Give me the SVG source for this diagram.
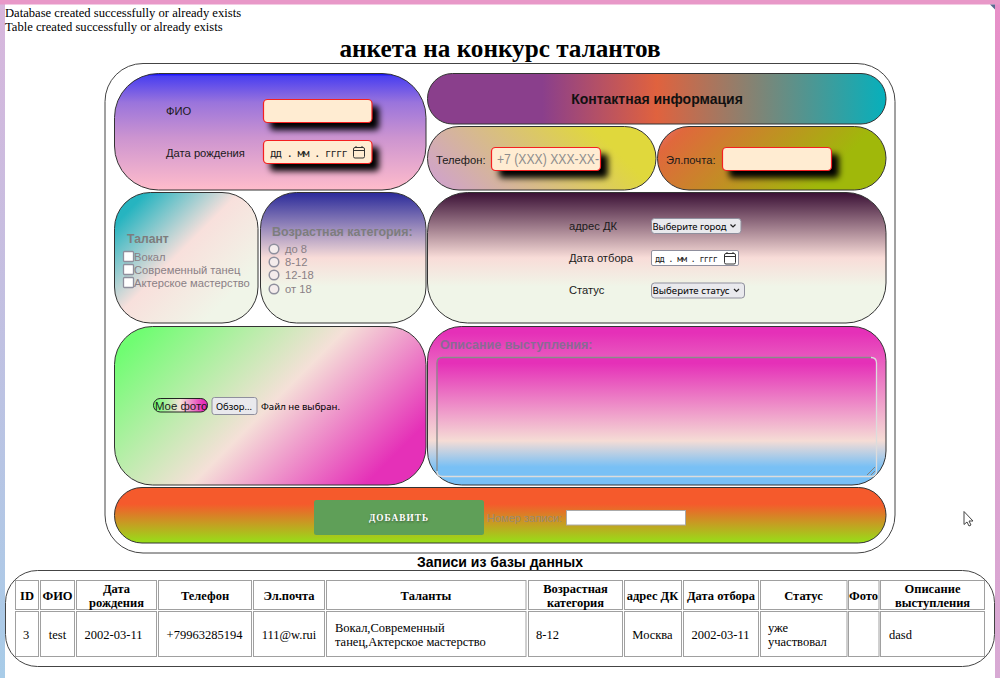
<svg xmlns="http://www.w3.org/2000/svg" width="1000" height="678" viewBox="0 0 1000 678">
<style>
text{font-family:"Liberation Sans",Arial,sans-serif;font-size:11.2px;fill:#1a1a1a}
.serif{font-family:"Liberation Serif","Times New Roman",serif;font-size:12.6px;fill:#000}
.th{font-family:"Liberation Serif","Times New Roman",serif;font-weight:bold;font-size:12.5px;fill:#000;text-anchor:middle}
.td{font-family:"Liberation Serif","Times New Roman",serif;font-size:12.5px;fill:#000;text-anchor:middle}
.tl{font-family:"Liberation Serif","Times New Roman",serif;font-size:12.5px;fill:#000}
.panel{stroke:#333;stroke-width:1}
.inp{fill:#ffecd2;stroke:#f52020;stroke-width:1.2}
.cell{fill:#fff;stroke:#a0a0a0;stroke-width:1}
.ctl{fill:#e9e9ed;stroke:#8f8f9d;stroke-width:1}
.wt{font-family:"Noto Sans",sans-serif;font-size:9.6px;fill:#000}
.mono{font-family:"DejaVu Sans Mono",monospace;fill:#222}
.dim{fill:#8a7f85}
.dimb{fill:#7d7d7d;font-weight:bold;font-size:12.2px}
.icon{fill:none;stroke:#333;stroke-width:1}
.chev{fill:none;stroke:#222;stroke-width:1.2}
</style>
<defs>
<linearGradient id="gLeft" x1="0" y1="0" x2="0" y2="1"><stop offset="0" stop-color="#d8b6dc"/><stop offset="1" stop-color="#a8cce8"/></linearGradient>
<linearGradient id="gRight" x1="0" y1="0" x2="0" y2="1"><stop offset="0" stop-color="#e890c8"/><stop offset="1" stop-color="#d8aad4"/></linearGradient>
<linearGradient id="gMain" x1="0" y1="0" x2="0" y2="1"><stop offset="0" stop-color="#0000ff"/><stop offset=".025" stop-color="#4a3ff0"/><stop offset=".25" stop-color="#9a74dc"/><stop offset=".55" stop-color="#cc94d0"/><stop offset="1" stop-color="#ffbccb"/></linearGradient>
<linearGradient id="gHead" x1="0" y1="0" x2="1" y2="0"><stop offset="0" stop-color="#8a3f8c"/><stop offset=".25" stop-color="#8a3f8c"/><stop offset=".5" stop-color="#e0623e"/><stop offset="1" stop-color="#06b0bc"/></linearGradient>
<linearGradient id="gTel" gradientUnits="userSpaceOnUse" x1="468" y1="231" x2="615" y2="85"><stop offset="0" stop-color="#cf9fd4"/><stop offset=".78" stop-color="#e0d83c"/><stop offset="1" stop-color="#e0d83c"/></linearGradient>
<linearGradient id="gMail" gradientUnits="userSpaceOnUse" x1="698" y1="85" x2="845" y2="231"><stop offset="0" stop-color="#e8707a"/><stop offset=".1" stop-color="#e0683c"/><stop offset=".75" stop-color="#a0b80a"/><stop offset="1" stop-color="#a0b80a"/></linearGradient>
<linearGradient id="gTal" gradientUnits="userSpaceOnUse" x1="117" y1="189" x2="255" y2="326"><stop offset=".12" stop-color="#26b4c0"/><stop offset=".46" stop-color="#f8e0dc"/><stop offset=".8" stop-color="#f0f5e8"/></linearGradient>
<linearGradient id="gAge" x1="0" y1="0" x2="0" y2="1"><stop offset="0" stop-color="#2a2a9a"/><stop offset=".5" stop-color="#f8dcd8"/><stop offset=".72" stop-color="#f0f5e8"/></linearGradient>
<linearGradient id="gAddr" x1="0" y1="0" x2="0" y2="1"><stop offset="0" stop-color="#3a1035"/><stop offset=".5" stop-color="#f8dcd8"/><stop offset=".72" stop-color="#f0f5e8"/></linearGradient>
<linearGradient id="gPhoto" gradientUnits="userSpaceOnUse" x1="152" y1="288" x2="388" y2="523"><stop offset=".07" stop-color="#70fd72"/><stop offset=".5" stop-color="#f5e0d8"/><stop offset=".87" stop-color="#e530b8"/></linearGradient>
<linearGradient id="gDesc" x1="0" y1="0" x2="0" y2="1"><stop offset=".04" stop-color="#e530b8"/><stop offset=".72" stop-color="#f5dcd5"/><stop offset=".9" stop-color="#78c0f5"/></linearGradient>
<linearGradient id="gText" x1="0" y1="0" x2="0" y2="1"><stop offset=".05" stop-color="#e530b8"/><stop offset=".7" stop-color="#f5dcd5"/><stop offset=".92" stop-color="#78c0f5"/></linearGradient>
<linearGradient id="gAdd" x1="0" y1="0" x2="0" y2="1"><stop offset=".3" stop-color="#f55a2c"/><stop offset="1" stop-color="#96e018"/></linearGradient>
<linearGradient id="gPill" x1="0" y1="0" x2="1" y2="0"><stop offset=".02" stop-color="#70fd72"/><stop offset=".5" stop-color="#f5e0d8"/><stop offset=".92" stop-color="#e530b8"/></linearGradient>
<filter id="sh" x="-30%" y="-60%" width="170%" height="250%"><feGaussianBlur stdDeviation="3"/></filter>
<filter id="ts" x="-20%" y="-50%" width="140%" height="200%"><feGaussianBlur stdDeviation="1"/></filter>
<g id="cal"><rect x="0.5" y="1.500" width="11" height="10.500" rx="1.500" class="icon"/><path d="M0.5 4.500H11.500M3 0V2M9 0V2" class="icon"/></g>
</defs>

<g id="page">
<rect width="1000" height="678" fill="#fff"/>
<rect x="0" y="0" width="5" height="678" fill="url(#gLeft)"/>
<rect x="995" y="0" width="5" height="678" fill="url(#gRight)"/>
<rect x="0" y="0" width="1000" height="4.500" fill="#e898c8"/>
<path d="M990 4.500h5v5z" fill="#5a6a90"/>
</g>

<text class="serif" x="5" y="17">Database created successfully or already exists</text>
<text class="serif" x="5" y="31">Table created successfully or already exists</text>
<text class="serif" x="500" y="57" text-anchor="middle" font-weight="bold" style="font-size:25.200px">анкета на конкурс талантов</text>

<g id="form-frame"><rect x="105" y="63.500" width="790" height="489.500" rx="38" fill="#fff" stroke="#444" stroke-width="1"/></g>

<g id="main-info">
<rect class="panel" x="114.500" y="73.500" width="311.500" height="116.500" rx="44" fill="url(#gMain)"/>
<text x="166" y="115">ФИО</text>
<text x="166" y="157">Дата рождения</text>
<rect x="270" y="106" width="109" height="24" rx="4" fill="#000" filter="url(#sh)"/>
<rect class="inp" x="263.500" y="99.500" width="108.500" height="23" rx="4"/>
<rect x="270" y="147" width="109" height="24" rx="4" fill="#000" filter="url(#sh)"/>
<rect class="inp" x="263.500" y="140.500" width="108.500" height="23" rx="4"/>
<text class="mono" x="270" y="157" style="font-size:10.800px" textLength="78">дд . мм . гггг</text>
<use href="#cal" x="353" y="146"/>
</g>

<g id="contact-head">
<rect class="panel" x="427.500" y="73.500" width="458.500" height="50.500" rx="25" fill="url(#gHead)"/>
<text x="657" y="104" text-anchor="middle" font-weight="bold" style="font-size:14px;fill:#111">Контактная информация</text>
</g>

<g id="phone">
<rect class="panel" x="427.500" y="126.500" width="228.500" height="63.500" rx="31.500" fill="url(#gTel)"/>
<text x="436" y="164">Телефон:</text>
<rect x="499" y="154" width="109" height="24" rx="4" fill="#000" filter="url(#sh)"/>
<rect class="inp" x="491.500" y="147.500" width="109" height="23" rx="4"/>
<text x="497" y="164" style="font-size:14px;fill:#8d8d8d" textLength="102" lengthAdjust="spacingAndGlyphs">+7 (XXX) XXX-XX-</text>
</g>

<g id="email">
<rect class="panel" x="657.500" y="126.500" width="228.500" height="63.500" rx="31.500" fill="url(#gMail)"/>
<text x="666" y="164">Эл.почта:</text>
<rect x="729" y="154" width="110" height="24" rx="4" fill="#000" filter="url(#sh)"/>
<rect class="inp" x="722.500" y="147.500" width="109" height="23" rx="4"/>
</g>

<g id="talent">
<rect class="panel" x="114.500" y="192.500" width="143.500" height="130.500" rx="36" fill="url(#gTal)"/>
<text class="dimb" x="127" y="242.500">Талант</text>
<rect x="123.500" y="251.500" width="10" height="10" rx="1" fill="#fff" stroke="#8f8f9d" stroke-width="1.300"/>
<rect x="123.500" y="264.500" width="10" height="10" rx="1" fill="#fff" stroke="#8f8f9d" stroke-width="1.300"/>
<rect x="123.500" y="277.500" width="10" height="10" rx="1" fill="#fff" stroke="#8f8f9d" stroke-width="1.300"/>
<text class="dim" x="134" y="260.500">Вокал</text>
<text class="dim" x="134" y="273.500">Современный танец</text>
<text class="dim" x="134" y="287">Актерское мастерство</text>
</g>

<g id="age">
<rect class="panel" x="260.500" y="192.500" width="165.500" height="130.500" rx="36" fill="url(#gAge)"/>
<text class="dimb" x="272" y="236" style="font-size:12.450px">Возрастная категория:</text>
<circle cx="274" cy="249" r="4.800" fill="#f4ecec" stroke="#8f8f9d" stroke-width="1.500"/>
<circle cx="274" cy="262" r="4.800" fill="#f4ecec" stroke="#8f8f9d" stroke-width="1.500"/>
<circle cx="274" cy="275" r="4.800" fill="#f4ecec" stroke="#8f8f9d" stroke-width="1.500"/>
<circle cx="274" cy="289" r="4.800" fill="#f4ecec" stroke="#8f8f9d" stroke-width="1.500"/>
<text class="dim" x="285" y="253">до 8</text>
<text class="dim" x="285" y="266">8-12</text>
<text class="dim" x="285" y="279">12-18</text>
<text class="dim" x="285" y="293">от 18</text>
</g>

<g id="address">
<rect class="panel" x="427.500" y="192.500" width="458.500" height="130.500" rx="40" fill="url(#gAddr)"/>
<text x="569" y="230">адрес ДК</text>
<text x="569" y="262">Дата отбора</text>
<text x="569" y="294">Статус</text>
<rect class="ctl" x="651.500" y="218.500" width="89.500" height="15" rx="3"/>
<text class="wt" x="652.500" y="229.500" textLength="74" lengthAdjust="spacingAndGlyphs">Выберите город</text>
<path class="chev" d="M730.500 224.500l2.500 2.500 2.500-2.500"/>
<rect x="651.500" y="250.500" width="87" height="15" rx="1.500" fill="#fff" stroke="#8f8f9d"/>
<text class="mono" x="655" y="261.500" style="font-size:8.800px" textLength="63">дд . мм . гггг</text>
<use href="#cal" x="724" y="252"/>
<rect class="ctl" x="651.500" y="283" width="93" height="15" rx="3"/>
<text class="wt" x="652.500" y="294" textLength="77" lengthAdjust="spacingAndGlyphs">Выберите статус</text>
<path class="chev" d="M734 289l2.500 2.500 2.500-2.500"/>
</g>

<g id="photo">
<rect class="panel" x="114.500" y="326.500" width="311.500" height="158.500" rx="38" fill="url(#gPhoto)"/>
<rect x="153.500" y="398.500" width="54" height="13.500" rx="6.700" fill="url(#gPill)" stroke="#222"/>
<text x="155" y="409.500" style="font-size:11.400px">Мое фото</text>
<rect class="ctl" x="212" y="397.500" width="45" height="17" rx="2.500"/>
<text class="wt" x="216" y="409.500" textLength="36" lengthAdjust="spacingAndGlyphs">Обзор...</text>
<text class="wt" x="261" y="409.500" textLength="79" lengthAdjust="spacingAndGlyphs">Файл не выбран.</text>
</g>

<g id="description">
<rect class="panel" x="427.500" y="326.500" width="458.500" height="158.500" rx="34" fill="url(#gDesc)"/>
<text x="440" y="349" font-weight="bold" style="fill:#8a6a94;font-size:12.500px">Описание выступления:</text>
<rect x="436.500" y="357.500" width="440" height="119" rx="6" fill="url(#gText)"/>
<path d="M437 471V363q0-5.500 5.500-5.500H871" fill="none" stroke="#8a8a8a" stroke-width="1.300"/>
<path d="M871 357.500q5.500 0 5.500 5.500V471q0 5.500-5.500 5.500H442.500q-5.500 0-5.500-5.500" fill="none" stroke="#dcdcdc" stroke-width="1.300"/>
<path d="M867 475l8-8M871 475l4-4" stroke="#808080" stroke-width="1" fill="none"/>
</g>

<g id="submit">
<rect class="panel" x="114.500" y="487.500" width="771.500" height="55.500" rx="27.500" fill="url(#gAdd)"/>
<rect x="314" y="500" width="170" height="35" rx="2.500" fill="#5f9f58"/>
<text x="399.500" y="522" text-anchor="middle" class="serif" font-weight="bold" filter="url(#ts)" style="font-size:9.300px;letter-spacing:1px;fill:#3a5a36">ДОБАВИТЬ</text>
<text x="399" y="521" text-anchor="middle" class="serif" font-weight="bold" style="font-size:9.300px;letter-spacing:1px;fill:#fff">ДОБАВИТЬ</text>
<text x="487" y="522" style="fill:#9a8a70" textLength="75" lengthAdjust="spacingAndGlyphs">Номер записи:</text>
<rect x="566.500" y="510.500" width="119" height="14.500" fill="#fff" stroke="#aaa"/>
</g>

<text x="500" y="567" text-anchor="middle" font-weight="bold" style="font-size:14px;fill:#000">Записи из базы данных</text>

<g id="table-frame"><rect x="5.500" y="570.500" width="989" height="96" rx="32" fill="#fff" stroke="#444"/></g>

<g id="records">
<rect class="cell" x="15.500" y="580.500" width="23" height="29"/>
<rect class="cell" x="40.500" y="580.500" width="34" height="29"/>
<rect class="cell" x="76.500" y="580.500" width="80" height="29"/>
<rect class="cell" x="158.500" y="580.500" width="93" height="29"/>
<rect class="cell" x="253.500" y="580.500" width="71" height="29"/>
<rect class="cell" x="326.500" y="580.500" width="199.500" height="29"/>
<rect class="cell" x="528.500" y="580.500" width="94" height="29"/>
<rect class="cell" x="624.500" y="580.500" width="57" height="29"/>
<rect class="cell" x="683.500" y="580.500" width="75" height="29"/>
<rect class="cell" x="760.500" y="580.500" width="86.500" height="29"/>
<rect class="cell" x="848.500" y="580.500" width="30.500" height="29"/>
<rect class="cell" x="880.500" y="580.500" width="104" height="29"/>
<rect class="cell" x="15.500" y="611.500" width="23" height="45"/>
<rect class="cell" x="40.500" y="611.500" width="34" height="45"/>
<rect class="cell" x="76.500" y="611.500" width="80" height="45"/>
<rect class="cell" x="158.500" y="611.500" width="93" height="45"/>
<rect class="cell" x="253.500" y="611.500" width="71" height="45"/>
<rect class="cell" x="326.500" y="611.500" width="199.500" height="45"/>
<rect class="cell" x="528.500" y="611.500" width="94" height="45"/>
<rect class="cell" x="624.500" y="611.500" width="57" height="45"/>
<rect class="cell" x="683.500" y="611.500" width="75" height="45"/>
<rect class="cell" x="760.500" y="611.500" width="86.500" height="45"/>
<rect class="cell" x="848.500" y="611.500" width="30.500" height="45"/>
<rect class="cell" x="880.500" y="611.500" width="104" height="45"/>
<text class="th" x="27" y="600">ID</text>
<text class="th" x="57.500" y="600">ФИО</text>
<text class="th" x="116.500" y="593">Дата</text>
<text class="th" x="116.500" y="607">рождения</text>
<text class="th" x="205" y="600">Телефон</text>
<text class="th" x="289" y="600">Эл.почта</text>
<text class="th" x="426" y="600">Таланты</text>
<text class="th" x="575.500" y="593">Возрастная</text>
<text class="th" x="575.500" y="607">категория</text>
<text class="th" x="652.500" y="600">адрес ДК</text>
<text class="th" x="721" y="600">Дата отбора</text>
<text class="th" x="803.500" y="600">Статус</text>
<text class="th" x="863.500" y="600">Фото</text>
<text class="th" x="932.500" y="593">Описание</text>
<text class="th" x="932.500" y="607">выступления</text>
<text class="td" x="26" y="639">3</text>
<text class="td" x="57.500" y="639">test</text>
<text class="td" x="113.500" y="639">2002-03-11</text>
<text class="td" x="204.500" y="639">+79963285194</text>
<text class="td" x="289" y="639">111@w.rui</text>
<text class="tl" x="335" y="632">Вокал,Современный</text>
<text class="tl" x="335" y="646">танец,Актерское мастерство</text>
<text class="tl" x="536" y="639">8-12</text>
<text class="td" x="652.500" y="639">Москва</text>
<text class="td" x="720.500" y="639">2002-03-11</text>
<text class="tl" x="768" y="632">уже</text>
<text class="tl" x="768" y="646">участвовал</text>
<text class="tl" x="889" y="639">dasd</text>
</g>

<g id="cursor"><path d="M964 511.500v13l3-2.500 2 4 2-1-2-4h4z" fill="#fff" stroke="#444" stroke-width="1"/></g>
</svg>
